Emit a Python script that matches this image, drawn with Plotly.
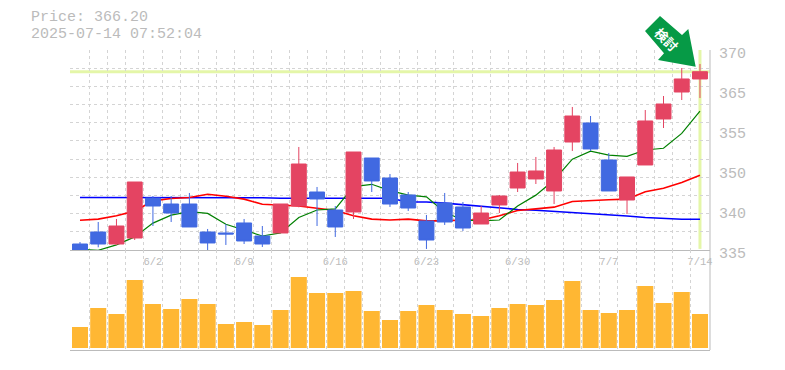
import plotly.graph_objects as go

PRICE_TITLE = "Price: 366.20"
TIME_TITLE = "2025-07-14 07:52:04"
CURRENT_PRICE = 366.2
ARROW_TEXT = "検討"

dates = ["5/27","5/28","5/29","5/30","6/2","6/3","6/4","6/5","6/6","6/9","6/10","6/11","6/12","6/13",
         "6/16","6/17","6/18","6/19","6/20","6/23","6/24","6/25","6/26","6/27","6/30","7/1","7/2","7/3",
         "7/4","7/7","7/8","7/9","7/10","7/11","7/14"]
open_ = [336.05,338.15,336.05,337.1,344.1,343.05,343.05,338.15,337.98,339.73,337.45,337.98,342.7,345.15,
         342.0,341.65,351.1,347.6,344.63,340.08,343.23,342.53,339.55,342.88,345.85,347.43,345.33,353.9,
         357.23,350.75,343.75,349.88,357.93,362.65,364.93]
close = [335.0,336.05,339.2,346.9,342.7,341.47,339.03,336.23,337.8,336.58,336.05,343.05,350.05,343.93,
         339.03,352.15,347.08,343.05,342.35,336.75,339.9,338.85,341.47,344.45,348.65,348.83,352.5,358.45,
         352.68,345.33,347.78,357.58,360.55,364.93,366.2]
high = [336.4,339.9,340.43,346.9,344.45,344.45,344.98,338.68,339.55,340.43,339.2,343.05,353.03,346.03,
        342.7,352.15,351.1,348.3,345.15,341.13,344.98,343.4,342.7,344.63,350.23,351.28,353.03,360.03,
        358.45,351.98,347.78,359.5,361.95,366.85,367.55]
low = [335.0,335.47,335.88,336.75,339.2,339.9,339.03,335.0,335.88,336.05,335.53,337.98,342.47,339.2,
       337.28,340.43,345.15,342.53,341.83,335.18,339.38,338.33,339.55,341.47,345.15,346.55,343.05,352.33,
       352.33,345.33,341.3,349.88,356.35,361.25,361.6]
ma_short = [335.1,334.95,335.9,337.3,339.7,341.1,341.7,341.4,339.5,338.5,337.45,338.0,340.7,342.0,
            342.2,346.1,346.5,345.4,344.6,344.3,341.6,340.25,340.1,340.25,342.7,344.6,347.25,350.9,
            352.3,351.6,351.4,352.5,352.8,355.4,359.3]
ma_mid = [340.2,340.4,341.0,341.8,343.6,344.0,344.2,344.75,344.4,343.9,343.0,342.9,342.7,342.3,
          341.9,341.0,340.4,340.25,340.4,340.1,340.1,340.25,340.25,341.0,341.9,342.2,342.5,343.5,
          343.7,343.8,343.9,345.2,345.8,346.8,348.07]
ma_long = [344.2,344.2,344.2,344.2,344.2,344.2,344.2,344.2,344.15,344.15,344.15,344.05,344.05,344.05,
           344.05,344.05,344.05,344.05,343.4,343.4,343.2,342.9,342.65,342.4,342.1,341.95,341.77,341.6,
           341.4,341.25,340.95,340.7,340.54,340.37,340.37]
volume = [21,40,34,68,44,39,49,44,24,26,23,38,71,55,55,57,37,28,37,43,38,34,32,40,44,43,48,67,38,35,38,62,45,56,34]
date_ticks = ["6/2","6/9","6/16","6/23","6/30","7/7","7/14"]
price_ticks = [335,342,349,356,363,370]
price_tick_labels = ["335","340","350","355","365","370"]

W, H = 785, 370
L, R, T, B = 70, 75, 50, 20
PW, PH = W - L - R, H - T - B
def px(x): return (x - L) / PW
def py(y): return (H - B - y) / PH

idx = list(range(len(dates)))
xr = [-0.548, 34.55]
GRID = "#d4d4d4"
AXIS = "#bbbbbb"
YEL = "#e4f6a8"
MONO = "Liberation Mono"
DOM = [1/3, 1]

fig = go.Figure()
fig.add_trace(go.Scatter(x=idx, y=ma_long, mode="lines", line=dict(color="#0000ff", width=1.6), xaxis="x", yaxis="y", showlegend=False))
fig.add_trace(go.Scatter(x=idx, y=ma_mid, mode="lines", line=dict(color="#ff0000", width=1.6), xaxis="x", yaxis="y", showlegend=False))
fig.add_trace(go.Scatter(x=idx, y=ma_short, mode="lines", line=dict(color="#008000", width=1.2), xaxis="x", yaxis="y", showlegend=False))
fig.add_trace(go.Bar(x=idx, y=volume, marker=dict(color="#ffb733", line=dict(width=0)), xaxis="x2", yaxis="y2", showlegend=False))
fig.add_trace(go.Candlestick(x=idx, open=open_, high=high, low=low, close=close,
    increasing=dict(line=dict(color="#e44462", width=1), fillcolor="#e44462"),
    decreasing=dict(line=dict(color="#4169e1", width=1), fillcolor="#4169e1"),
    whiskerwidth=0, xaxis="x3", yaxis="y3", showlegend=False))
fig.add_trace(go.Scatter(x=[0]*len(price_ticks), y=price_ticks, mode="lines", line=dict(width=0), hoverinfo="skip",
    xaxis="x4", yaxis="y4", showlegend=False))

xgrid = dict(showgrid=True, gridcolor=GRID, griddash="3px,3px", gridwidth=1, tickmode="linear", tick0=-0.5, dtick=1,
             showticklabels=False, ticks="", range=xr, zeroline=False, showline=True, linecolor=AXIS, linewidth=1)

fig.update_layout(
    width=W, height=H, margin=dict(l=L, r=R, t=T, b=B, autoexpand=False),
    paper_bgcolor="white", plot_bgcolor="rgba(0,0,0,0)", showlegend=False, bargap=0.12, boxgap=0.18, boxgroupgap=0,
    xaxis=dict(**xgrid, domain=[0, 1], anchor="y"),
    xaxis2=dict(**xgrid, domain=[0, 1], anchor="y2"),
    xaxis3=dict(overlaying="x", anchor="y3", range=xr, showgrid=False, zeroline=False, showline=False, ticks="",
                rangeslider=dict(visible=False), tickmode="array",
                tickvals=[dates.index(d) for d in date_ticks], ticktext=date_ticks, ticklabelstandoff=3,
                tickfont=dict(family=MONO, size=10.5, color="#bbbbbb")),
    xaxis4=dict(domain=[0, 1], anchor="y4", range=xr, visible=False),
    yaxis=dict(domain=DOM, range=[335, 370], anchor="x", showgrid=True, gridcolor=GRID, griddash="3px,3px",
               tickmode="linear", tick0=335, dtick=35/11, showticklabels=False, ticks="", zeroline=False, showline=False),
    yaxis2=dict(domain=[0, 1/3], range=[-2, 98], anchor="x2", showgrid=False, showticklabels=False, ticks="", zeroline=False),
    yaxis3=dict(overlaying="y", range=[335, 370], anchor="x3", showgrid=False, showticklabels=False, ticks="", zeroline=False),
    yaxis4=dict(domain=[1/3 - 0.01, 0.99], range=[335, 370], anchor="x4", side="right", showgrid=False,
                zeroline=False, ticks="", tickmode="array", tickvals=price_ticks, ticktext=price_tick_labels,
                tickfont=dict(family=MONO, size=15, color="#bbbbbb"), ticklabelstandoff=8),
    shapes=[
        dict(type="line", xref="paper", yref="y", x0=0, x1=1, y0=CURRENT_PRICE, y1=CURRENT_PRICE,
             line=dict(color=YEL, width=3), layer="below"),
        dict(type="line", xref="x", yref="y", x0=idx[-1], x1=idx[-1], y0=335.2, y1=370,
             line=dict(color=YEL, width=3), layer="below"),
        dict(type="line", xref="paper", yref="paper", x0=1, x1=1, y0=0, y1=1, line=dict(color=AXIS, width=1)),
        dict(type="path", xref="paper", yref="paper", fillcolor="#069a46", line=dict(width=0),
             path="M {} {} L {} {} L {} {} L {} {} L {} {} L {} {} L {} {} Z".format(
                 px(660), py(16), px(682), py(35), px(688.3), py(29), px(695.7), py(66.7),
                 px(658), py(60), px(664), py(53.3), px(645), py(31))),
    ],
    annotations=[
        dict(text=PRICE_TITLE, xref="paper", yref="paper", x=px(29), y=py(17.5), xanchor="left", yanchor="middle",
             showarrow=False, font=dict(family=MONO, size=15, color="#bbbbbb")),
        dict(text=TIME_TITLE, xref="paper", yref="paper", x=px(29), y=py(34.5), xanchor="left", yanchor="middle",
             showarrow=False, font=dict(family=MONO, size=15, color="#bbbbbb")),
        dict(text="<b>" + ARROW_TEXT + "</b>", xref="paper", yref="paper", x=px(667), y=py(39), xanchor="center", yanchor="middle",
             showarrow=False, textangle=45, font=dict(family="Noto Sans CJK JP", size=13, color="white")),
    ],
)
fig.write_html("out.html", config={"displayModeBar": False}, post_script="document.body.style.margin='0';")
